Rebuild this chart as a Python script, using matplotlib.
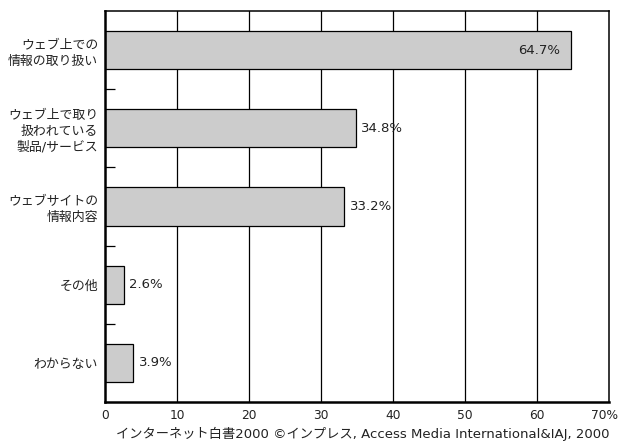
import matplotlib
matplotlib.use("Agg")
import matplotlib.pyplot as plt
import matplotlib.transforms as mtransforms
from matplotlib.ticker import FixedLocator

# 欧文は幅広のDejaVu、和文はNoto CJKへフォールバック
plt.rcParams["font.family"] = ["DejaVu Sans", "Noto Sans CJK JP"]

# 回答カテゴリと割合（%）
CATEGORIES = [
    "ウェブ上での\n情報の取り扱い",
    "ウェブ上で取り\n扱われている\n製品/サービス",
    "ウェブサイトの\n情報内容",
    "その他",
    "わからない",
]
VALUES = [64.7, 34.8, 33.2, 2.6, 3.9]
X_TICKS = [0, 10, 20, 30, 40, 50, 60, 70]
X_TICK_LABELS = ["0", "10", "20", "30", "40", "50", "60", "70%"]
CAPTION = "インターネット白書2000 ©インプレス, Access Media International&IAJ, 2000"

fig = plt.figure(figsize=(6.21, 4.41), dpi=100)
ax = fig.add_axes([105 / 621, 1 - 402 / 441, 504 / 621, 391 / 441])

y = list(range(len(CATEGORIES)))
for xv in X_TICKS[1:-1]:
    ax.axvline(xv, color="black", lw=0.9, zorder=1)
ax.barh(y, VALUES, height=0.49, color="#cccccc", edgecolor="black",
        linewidth=0.9, zorder=2)

for yi, v in zip(y, VALUES):
    label = f"{v:.1f}%"
    if v > 50:
        ax.text(v - 1.5, yi, label, ha="right", va="center", fontsize=9.5,
                color="#222222", zorder=3)
    else:
        ax.text(v + 0.8, yi, label, ha="left", va="center", fontsize=9.5,
                color="#222222", zorder=3)

ax.set_xlim(0, 70)
ax.set_ylim(len(CATEGORIES) - 0.5, -0.5)
ax.set_xticks(X_TICKS)
ax.set_xticklabels(X_TICK_LABELS, fontsize=8.8, color="#222222")
ax.tick_params(axis="x", length=0, pad=5)
# 「70%」は右端からはみ出さないよう少し左へ
shift = mtransforms.ScaledTranslation(-5 / 100, 0, fig.dpi_scale_trans)
last = ax.get_xticklabels()[-1]
last.set_transform(last.get_transform() + shift)

# カテゴリ名は軸の外、区切り目盛は内向き
ax.set_yticks(y)
ax.set_yticklabels(CATEGORIES, fontsize=9.3, linespacing=1.3, color="#222222")
ax.tick_params(axis="y", which="major", length=0, pad=5)
ax.yaxis.set_minor_locator(FixedLocator([0.5, 1.5, 2.5, 3.5]))
ax.tick_params(axis="y", which="minor", length=7, width=0.9, direction="in")
for t in ax.get_yticklabels():
    t.set_horizontalalignment("right")
    t.set_multialignment("right")

for side in ("left", "bottom"):
    ax.spines[side].set_linewidth(1.8)
for side in ("top", "right"):
    ax.spines[side].set_linewidth(1.1)

fig.text(609 / 621, 1 - 434 / 441, CAPTION, ha="right", va="center",
         fontsize=9.5, color="#222222")

fig.savefig("out.png", dpi=100)
